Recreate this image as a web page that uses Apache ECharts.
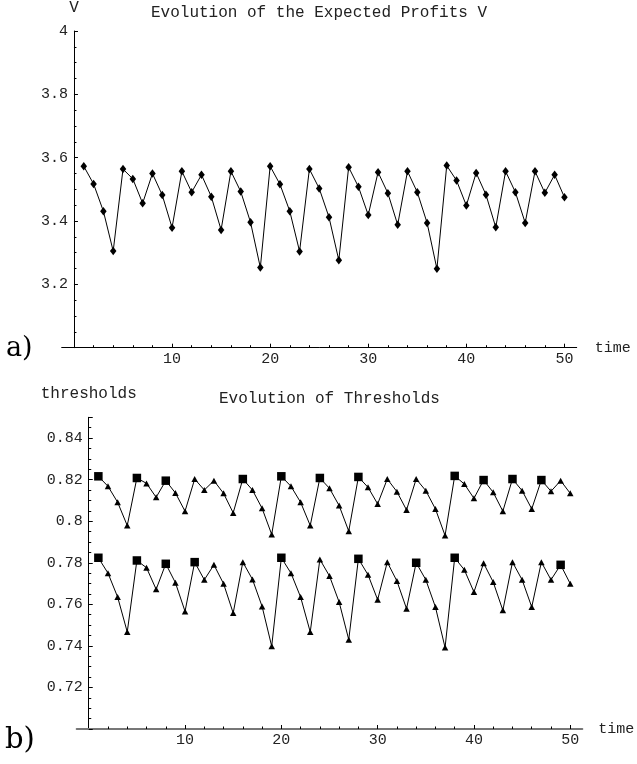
<!DOCTYPE html>
<html>
<head>
<meta charset="utf-8">
<script src="https://cdn.jsdelivr.net/npm/echarts@6/dist/echarts.min.js"></script>
<style>
  html, body { margin: 0; padding: 0; background: #fff; }
  #chart { width: 637px; height: 764px; }
</style>
</head>
<body>
<div id="chart"></div>
<script>
// Time steps shared by both panels
const timeSteps = [1, 2, 3, 4, 5, 6, 7, 8, 9, 10, 11, 12, 13, 14, 15, 16, 17, 18, 19, 20,
  21, 22, 23, 24, 25, 26, 27, 28, 29, 30, 31, 32, 33, 34, 35, 36, 37, 38, 39, 40,
  41, 42, 43, 44, 45, 46, 47, 48, 49, 50];

// Panel a): expected profits V
const expectedProfits = [3.573, 3.517, 3.431, 3.305, 3.564, 3.533, 3.456, 3.550, 3.482, 3.379,
  3.557, 3.491, 3.546, 3.477, 3.372, 3.557, 3.493, 3.396, 3.253, 3.573,
  3.516, 3.431, 3.304, 3.564, 3.503, 3.412, 3.276, 3.570, 3.508, 3.419,
  3.554, 3.488, 3.388, 3.557, 3.491, 3.394, 3.249, 3.575, 3.528, 3.449,
  3.552, 3.483, 3.380, 3.557, 3.491, 3.394, 3.557, 3.489, 3.546, 3.475];

// Panel b): upper and lower thresholds
const upperThreshold = [0.8216, 0.8168, 0.8091, 0.7979, 0.8208, 0.8182, 0.8115, 0.8195, 0.8136, 0.8048,
  0.8203, 0.8150, 0.8195, 0.8134, 0.8040, 0.8203, 0.8150, 0.8062, 0.7936, 0.8216,
  0.8168, 0.8091, 0.7979, 0.8208, 0.8158, 0.8075, 0.7952, 0.8213, 0.8163, 0.8083,
  0.8203, 0.8142, 0.8054, 0.8203, 0.8147, 0.8059, 0.7931, 0.8218, 0.8179, 0.8110,
  0.8198, 0.8139, 0.8048, 0.8203, 0.8147, 0.8059, 0.8198, 0.8144, 0.8195, 0.8134];
const lowerThreshold = [0.7824, 0.7750, 0.7635, 0.7467, 0.7811, 0.7776, 0.7672, 0.7795, 0.7704, 0.7566,
  0.7803, 0.7718, 0.7790, 0.7699, 0.7558, 0.7803, 0.7720, 0.7590, 0.7398, 0.7824,
  0.7750, 0.7635, 0.7467, 0.7816, 0.7736, 0.7611, 0.7430, 0.7819, 0.7742, 0.7622,
  0.7803, 0.7712, 0.7579, 0.7800, 0.7718, 0.7587, 0.7392, 0.7824, 0.7766, 0.7659,
  0.7798, 0.7707, 0.7571, 0.7803, 0.7718, 0.7587, 0.7803, 0.7718, 0.7790, 0.7699];

// Time steps drawn with a square marker instead of a triangle
const upperSquareSteps = [1, 5, 8, 16, 20, 24, 28, 38, 41, 44, 47];
const lowerSquareSteps = [1, 5, 8, 11, 20, 28, 34, 38, 49];

// Axis tick values
const timeMajorTicks = [10, 20, 30, 40, 50];
const timeMinorTicks = [2, 4, 6, 8, 12, 14, 16, 18, 22, 24, 26, 28, 32, 34, 36, 38, 42, 44, 46, 48];
const profitTickLabels = [3.2, 3.4, 3.6, 3.8, 4];
const thresholdTickLabels = [0.72, 0.74, 0.76, 0.78, 0.8, 0.82, 0.84];

const MONO = '"Liberation Mono", "DejaVu Sans Mono", monospace';
const SERIF = '"DejaVu Serif", "Liberation Serif", serif';
const TEXT = '#222';

// Time runs from -1.25 so the horizontal axis pokes out left of the vertical one
const TIME_MIN = -1.25;
const TIME_MAX = 51.25;

const grids = [
  { left: 61.7, top: 30, width: 515, height: 317.7 },
  { left: 76.7, top: 417.3, width: 505.6, height: 311.7 }
];

// shift of the vertical axis from the grid's left edge to time = 0
function zeroShift(g) {
  return -(0 - TIME_MIN) / (TIME_MAX - TIME_MIN) * g.width;
}

function timeAxes(gridIndex, lineColor, lineWidth) {
  const base = {
    type: 'value', gridIndex: gridIndex, position: 'bottom',
    min: TIME_MIN, max: TIME_MAX, splitLine: { show: false }
  };
  return [
    Object.assign({}, base, {
      name: 'time', nameLocation: 'end', nameGap: gridIndex === 0 ? 18 : 16,
      nameTextStyle: { fontFamily: MONO, fontSize: 15, color: TEXT, verticalAlign: 'middle' },
      axisLine: { show: true, onZero: false, lineStyle: { color: lineColor, width: lineWidth } },
      axisTick: { show: true, inside: true, length: 4, customValues: timeMajorTicks,
        lineStyle: { color: '#000', width: 1 } },
      axisLabel: { show: true, customValues: timeMajorTicks, margin: 4,
        fontFamily: MONO, fontSize: 15, color: TEXT }
    }),
    Object.assign({}, base, {
      axisLine: { show: false, onZero: false },
      axisTick: { show: true, inside: true, length: 2.5, customValues: timeMinorTicks,
        lineStyle: { color: '#000', width: 1 } },
      axisLabel: { show: false }
    })
  ];
}

function valueAxis(gridIndex, name, nameGap, min, max, interval, labels, digits) {
  return {
    type: 'value', gridIndex: gridIndex, position: 'left',
    offset: zeroShift(grids[gridIndex]),
    min: min, max: max, interval: interval,
    name: name, nameLocation: 'end', nameGap: nameGap,
    nameTextStyle: { fontFamily: MONO, fontSize: 16, color: TEXT, verticalAlign: 'middle', align: 'center' },
    axisLine: { show: true, onZero: false, lineStyle: { color: '#000', width: 1 } },
    axisTick: { show: true, inside: true, length: 4, lineStyle: { color: '#000', width: 1 } },
    minorTick: { show: true, splitNumber: 4, length: 2.5, lineStyle: { color: '#000', width: 1 } },
    splitLine: { show: false },
    axisLabel: {
      customValues: labels, margin: 6, fontFamily: MONO, fontSize: 15, color: TEXT,
      formatter: v => String(+Number(v).toFixed(digits))
    }
  };
}

function thresholdPoints(values, squares) {
  return timeSteps.map((t, i) => {
    const square = squares.indexOf(t) >= 0;
    return {
      value: [t, values[i]],
      symbol: square ? 'rect' : 'triangle',
      symbolSize: square ? 8.5 : [6.5, 6]
    };
  });
}

const lineStyle = { color: '#000', width: 1 };
const itemStyle = { color: '#000' };

const option = {
  animation: false,
  backgroundColor: '#fff',
  title: [
    { text: 'Evolution of the Expected Profits V', left: 151, top: 5, padding: 0,
      textStyle: { fontFamily: MONO, fontSize: 16, fontWeight: 'normal', color: TEXT } },
    { text: 'Evolution of Thresholds', left: 219, top: 391, padding: 0,
      textStyle: { fontFamily: MONO, fontSize: 16, fontWeight: 'normal', color: TEXT } }
  ],
  grid: grids.map(g => Object.assign({ containLabel: false }, g)),
  xAxis: timeAxes(0, '#000', 1).concat(timeAxes(1, '#777', 2)),
  yAxis: [
    valueAxis(0, 'V', 23, 3.0, 4.0, 0.2, profitTickLabels, 1),
    valueAxis(1, 'thresholds', 24, 0.70, 0.85, 0.02, thresholdTickLabels, 2)
  ],
  series: [
    {
      type: 'line', xAxisIndex: 0, yAxisIndex: 0,
      data: timeSteps.map((t, i) => [t, expectedProfits[i]]),
      symbol: 'diamond', symbolSize: [6.5, 8.5], showAllSymbol: true,
      lineStyle: lineStyle, itemStyle: itemStyle
    },
    {
      type: 'line', xAxisIndex: 2, yAxisIndex: 1,
      data: thresholdPoints(upperThreshold, upperSquareSteps), showAllSymbol: true,
      lineStyle: lineStyle, itemStyle: itemStyle
    },
    {
      type: 'line', xAxisIndex: 2, yAxisIndex: 1,
      data: thresholdPoints(lowerThreshold, lowerSquareSteps), showAllSymbol: true,
      lineStyle: lineStyle, itemStyle: itemStyle
    }
  ],
  graphic: [
    { type: 'text', left: 6, top: 335, style: { text: 'a)', font: '27px ' + SERIF, fill: '#000' } },
    { type: 'text', left: 5, top: 726, style: { text: 'b)', font: '29px ' + SERIF, fill: '#000' } }
  ]
};

const chart = echarts.init(document.getElementById('chart'), null, { renderer: 'canvas' });
chart.setOption(option);
</script>
</body>
</html>
